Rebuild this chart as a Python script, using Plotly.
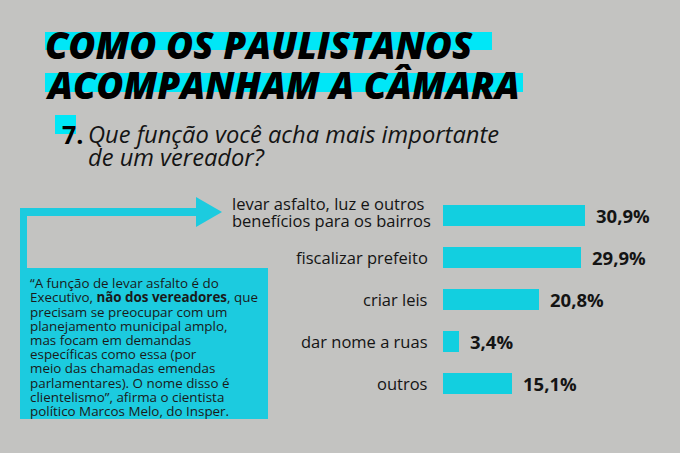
import plotly.graph_objects as go

W, H = 680, 453

# ---- data ----
categories = [
    "levar asfalto, luz e outros<br>benefícios para os bairros",
    "fiscalizar prefeito",
    "criar leis",
    "dar nome a ruas",
    "outros",
]
values = [30.9, 29.9, 20.8, 3.4, 15.1]
value_labels = ["30,9%", "29,9%", "20,8%", "3,4%", "15,1%"]

title_lines = ["COMO OS PAULISTANOS", "ACOMPANHAM A CÂMARA"]
question_number = "7."
question_lines = ["Que função você acha mais importante", "de um vereador?"]
quote_lines = [
    "“A função de levar asfalto é do",
    "Executivo, <b>não dos vereadores</b>, que",
    "precisam se preocupar com um",
    "planejamento municipal amplo,",
    "mas focam em demandas",
    "específicas como essa (por",
    "meio das chamadas emendas",
    "parlamentares). O nome disso é",
    "clientelismo”, afirma o cientista",
    "político Marcos Melo, do Insper.",
]

# ---- style ----
BG = "#c3c3c1"
BAR = "#12cfe0"
STRIPE = "#00e7f7"
BOX = "#1ccbdf"
TXT = "#141414"
FONT = "Open Sans"


def px(x):
    return x / W


def py(y):
    return 1 - y / H


fig = go.Figure()

fig.add_trace(go.Bar(
    x=values, y=categories, orientation="h",
    marker=dict(color=BAR, line=dict(width=0)),
    width=0.5, hoverinfo="skip", showlegend=False,
))

scale = 4.6  # px per percent
bar_left = 443
fig.update_layout(
    width=W, height=H, autosize=False,
    margin=dict(l=0, r=0, t=0, b=0),
    paper_bgcolor=BG, plot_bgcolor="rgba(0,0,0,0)",
    font=dict(family=FONT, color=TXT),
    xaxis=dict(domain=[px(bar_left), 1], range=[0, (W - bar_left) / scale],
               visible=False, fixedrange=True),
    yaxis=dict(domain=[py(404), py(194.5)], range=[4.5, -0.5],
               visible=False, fixedrange=True, type="category"),
    bargap=0,
)

shapes = []
ann = []

# title stripes
shapes.append(dict(type="rect", xref="paper", yref="paper",
                   x0=px(45), x1=px(492), y0=py(50), y1=py(32),
                   fillcolor=STRIPE, line=dict(width=0), layer="below"))
shapes.append(dict(type="rect", xref="paper", yref="paper",
                   x0=px(45), x1=px(523), y0=py(92), y1=py(73),
                   fillcolor=STRIPE, line=dict(width=0), layer="below"))
for i, t in enumerate(title_lines):
    ann.append(dict(text=t, xref="paper", yref="paper", x=px(43), y=py([45, 85][i]),
                    xanchor="left", yanchor="middle", showarrow=False,
                    font=dict(family=FONT, size=37, color="#000000", weight=800, style="italic")))

# question
shapes.append(dict(type="rect", xref="paper", yref="paper",
                   x0=px(55), x1=px(76), y0=py(134), y1=py(115),
                   fillcolor=STRIPE, line=dict(width=0), layer="below"))
ann.append(dict(text="<b>" + question_number + "</b>", xref="paper", yref="paper",
                x=px(60), y=py(134), xanchor="left", yanchor="middle", showarrow=False,
                font=dict(family=FONT, size=25, color="#000000")))
for i, t in enumerate(question_lines):
    ann.append(dict(text=t, xref="paper", yref="paper", x=px(86), y=py([134, 157][i]),
                    xanchor="left", yanchor="middle", showarrow=False,
                    font=dict(family=FONT, size=23.7, color=TXT, style="italic")))

# arrow connector and quote box
shapes.append(dict(type="rect", xref="paper", yref="paper",
                   x0=px(20), x1=px(27), y0=py(270), y1=py(208),
                   fillcolor=BOX, line=dict(width=0)))
shapes.append(dict(type="rect", xref="paper", yref="paper",
                   x0=px(20), x1=px(198), y0=py(216), y1=py(208),
                   fillcolor=BOX, line=dict(width=0)))
shapes.append(dict(type="path", xref="paper", yref="paper",
                   path=f"M {px(196)} {py(197)} L {px(222)} {py(212)} L {px(196)} {py(227)} Z",
                   fillcolor=BOX, line=dict(width=0)))
shapes.append(dict(type="rect", xref="paper", yref="paper",
                   x0=px(20), x1=px(268), y0=py(419), y1=py(268),
                   fillcolor=BOX, line=dict(width=0)))
quote_y = [283, 297.3, 311.5, 325.8, 340, 354.2, 368.4, 382.6, 396.8, 411]
for t, yy in zip(quote_lines, quote_y):
    ann.append(dict(text=t, xref="paper", yref="paper", x=px(28), y=py(yy),
                    xanchor="left", yanchor="middle", showarrow=False,
                    font=dict(family=FONT, size=13.4, color="#1a1a1a")))

# category labels
for i, c in enumerate(categories):
    parts = c.split("<br>")
    if len(parts) == 1:
        ann.append(dict(text=c, xref="paper", yref="y", x=px(430), y=i,
                        xanchor="right", yanchor="middle", showarrow=False,
                        font=dict(family=FONT, size=16.5, color=TXT)))
    else:
        for j, p in enumerate(parts):
            ann.append(dict(text=p, xref="paper", yref="paper", x=px(230),
                            y=py([203, 220][j]), xanchor="left", yanchor="middle",
                            showarrow=False, font=dict(family=FONT, size=16.5, color=TXT)))

# value labels
for i, (v, lab) in enumerate(zip(values, value_labels)):
    ann.append(dict(text="<b>" + lab + "</b>", xref="x", yref="y", x=v, y=i,
                    xanchor="left", yanchor="middle", xshift=9, showarrow=False,
                    font=dict(family=FONT, size=18.5, color=TXT)))

fig.update_layout(shapes=shapes, annotations=ann)
fig.write_html("out.html", config={"displayModeBar": False},
               post_script="document.body.style.margin='0';document.body.style.overflow='hidden';")
